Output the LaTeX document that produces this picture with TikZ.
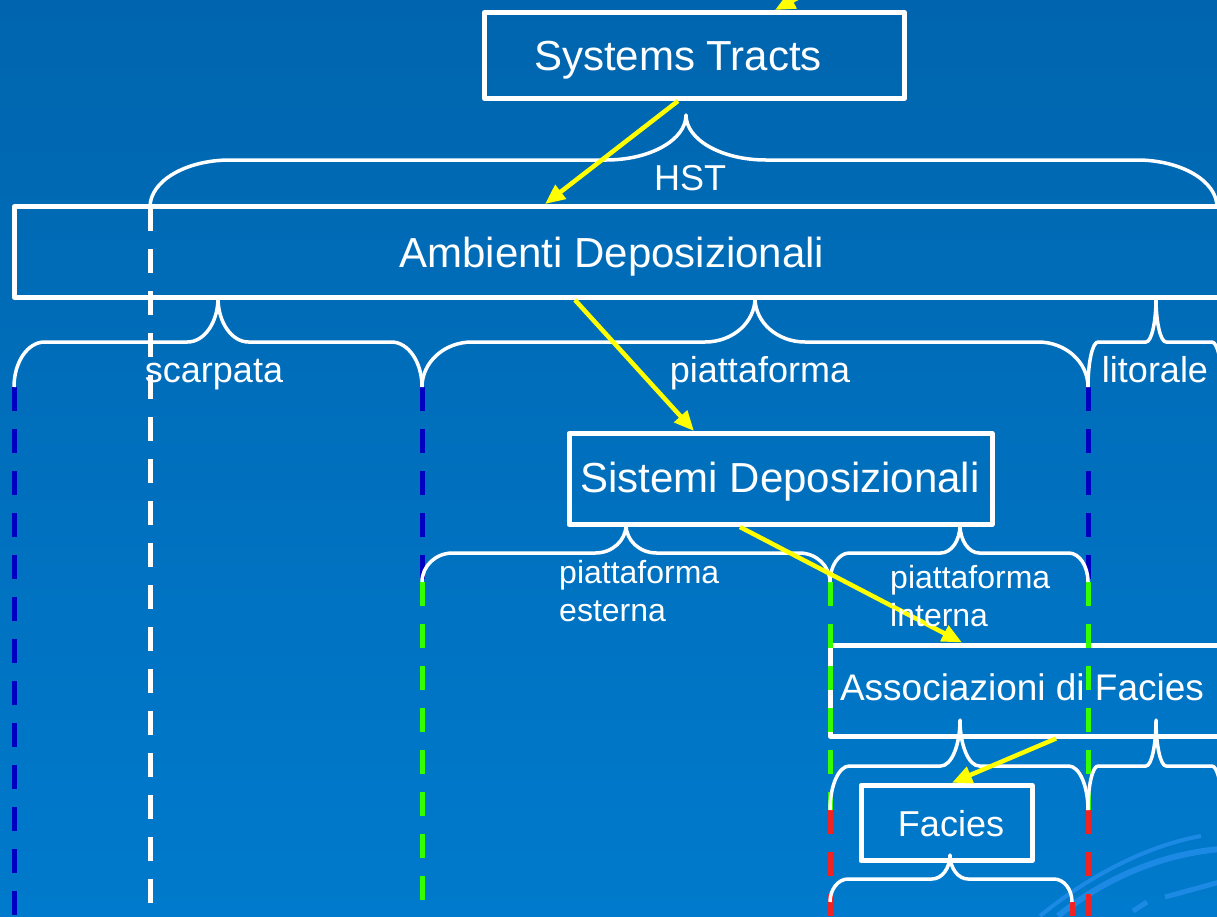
\documentclass[tikz,border=0pt]{standalone}
\usepackage{fontspec}
\setmainfont{Liberation Sans}
\usetikzlibrary{arrows.meta,calc}
\definecolor{bgtop}{RGB}{0,101,174}
\definecolor{bgbot}{RGB}{0,122,204}
\definecolor{dblue}{RGB}{0,0,192}
\definecolor{dgreen}{RGB}{51,255,0}
\definecolor{dred}{RGB}{240,34,34}
\definecolor{arcblue}{RGB}{28,138,228}
\definecolor{yarrow}{RGB}{255,255,0}
\newcommand\HBrace[6]{%
 \pgfmathsetmacro\brx{0.075*(#2-#1)}%
 \pgfmathsetmacro\bkx{0.5523*\brx}%
 \pgfmathsetmacro\bky{0.5523*(#6-#5)}%
 \pgfmathsetmacro\bkt{0.5523*(#5-#4)}%
 \draw[bracel] (#1,#6) .. controls (#1,#6-\bky) and (#1+\brx-\bkx,#5) .. (#1+\brx,#5) -- (#3-\brx,#5) .. controls (#3-\brx+\bkx,#5) and (#3,#4+\bkt) .. (#3,#4) .. controls (#3,#4+\bkt) and (#3+\brx-\bkx,#5) .. (#3+\brx,#5) -- (#2-\brx,#5) .. controls (#2-\brx+\bkx,#5) and (#2,#6-\bky) .. (#2,#6);}
\begin{document}
\begin{tikzpicture}[x=1pt,y=-1pt,line join=round,
  wbox/.style={draw=white,line width=5pt,inner sep=0pt},
  bracel/.style={draw=white,line width=3.5pt},
  dashln/.style={line width=5pt,dash pattern=on 24pt off 18pt},
  yarr/.style={draw=yarrow,line width=4.5pt,-{Triangle[length=20pt,width=17pt,fill=yarrow]}},
  big/.style={text=white,inner sep=0pt,font=\fontsize{42}{50}\selectfont},
  mid/.style={text=white,inner sep=0pt,font=\fontsize{36}{43}\selectfont},
  sml/.style={text=white,inner sep=0pt,font=\fontsize{32}{38}\selectfont}]
\useasboundingbox (0,0) rectangle (1217,916);
\clip (0,0) rectangle (1217,916);
\shade[top color=bgtop,bottom color=bgbot] (0,0) rectangle (1217,916);
% template decoration
\draw[arcblue,line width=4pt] (1040,916) .. controls (1075,887) and (1135,848) .. (1201,836);
\draw[arcblue,line width=6pt] (1058,916) .. controls (1100,882) and (1155,855) .. (1220,849);
\draw[arcblue,line width=5pt] (1165,897) -- (1220,882);
\draw[arcblue,line width=5pt] (1133,911) -- (1147,902);
% boxes
\node[wbox,minimum width=420pt,minimum height=86pt] (st) at (694.5,55.5) {};
\node[wbox,minimum width=1220pt,minimum height=91pt] (amb) at (624.5,252) {};
\node[wbox,minimum width=423pt,minimum height=91pt] (sis) at (780.5,479) {};
\node[wbox,minimum width=410pt,minimum height=91pt] (asc) at (1035,690.5) {};
\node[wbox,minimum width=171pt,minimum height=75.5pt] (fac) at (946.5,823) {};
% dashed boundaries
\draw[dashln,dblue] (14,387) -- (14,916);
\draw[dashln,white] (150,207) -- (150,916);
\draw[dashln,dblue] (422,387) -- (422,582);
\draw[dashln,dblue] (1088,387) -- (1088,582);
\draw[dashln,dgreen] (422,582) -- (422,916);
\draw[dashln,dgreen] (830,582) -- (830,810);
\draw[dashln,dgreen] (1088,582) -- (1088,810);
\draw[dashln,dred] (830,810) -- (830,916);
\draw[dashln,dred] (1088,810) -- (1088,916);
\draw[dashln,dred] (1072,902) -- (1072,916);
% braces
\HBrace{150}{1217}{686}{115}{160}{207}
\HBrace{14}{422}{218}{298}{342}{387}
\HBrace{422}{1088}{755}{298}{342}{387}
\HBrace{1088}{1222}{1156}{298}{342}{387}
\HBrace{422}{830}{626}{525}{553}{582}
\HBrace{830}{1088}{960}{525}{553}{582}
\HBrace{830}{1088}{960}{720}{766}{810}
\HBrace{1088}{1222}{1156}{720}{766}{810}
\HBrace{830}{1072}{950}{855}{879}{902}
% arrows
\coordinate (src) at (863,-37);
\draw[yarr] (src) -- ([xshift=80.5pt]st.north);
\draw[yarr] ([xshift=-16.5pt]st.south) -- ([xshift=-79.5pt]amb.north);
\draw[yarr] ([xshift=-49.5pt]amb.south) -- ([xshift=-86.5pt]sis.north);
\draw[yarr] ([xshift=-40.5pt]sis.south) -- ([xshift=-73pt]asc.north);
\draw[yarr] ([xshift=21pt]asc.south) -- ([xshift=5.5pt]fac.north);
% texts
\node[big,anchor=base] (stT) at (678,70) {Systems Tracts};
\node[big,anchor=base] (ambT) at (612,267) {Ambienti Deposizionali};
\node[big,anchor=base] (sisT) at (780,492) {Sistemi Deposizionali};
\node[mid,anchor=base,font=\fontsize{37}{44}\selectfont] (ascT) at (1022,700) {Associazioni di Facies};
\node[mid,anchor=base] (facT) at (951,836) {Facies};
\node[mid,anchor=base] (hst) at (690,190) {HST};
\node[mid,anchor=base] (scarp) at (214,382) {scarpata};
\node[mid,anchor=base] (piat) at (760,382) {piattaforma};
\node[mid,anchor=base] (lit) at (1155,382) {litorale};
\node[sml,anchor=base west] (est) at (559,583) {\vtop{\baselineskip=38pt\hbox{piattaforma}\hbox{esterna}}};
\node[sml,anchor=base west] (int) at (890,588) {\vtop{\baselineskip=38pt\hbox{piattaforma}\hbox{interna}}};
\end{tikzpicture}
\end{document}
